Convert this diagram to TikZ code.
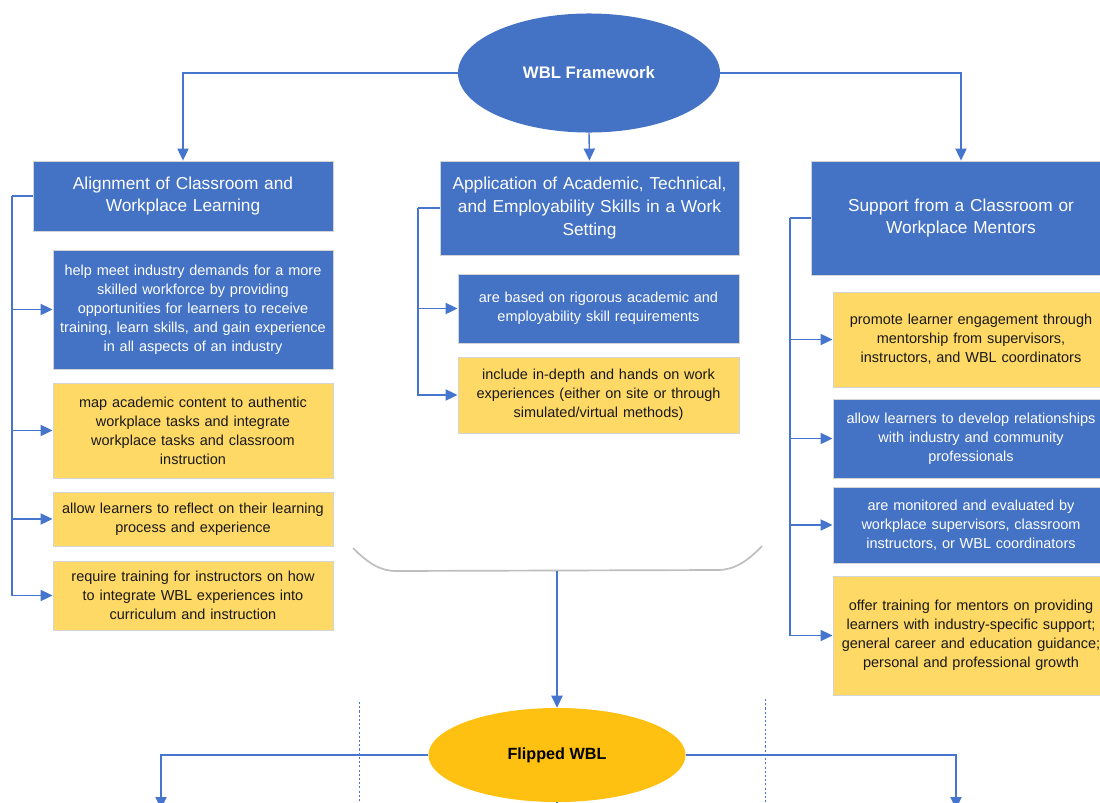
\documentclass[tikz,border=0pt]{standalone}
\usepackage{fontspec}
\setmainfont{Liberation Sans}
\usepackage{tikz}
\usetikzlibrary{shapes.geometric, arrows.meta, positioning, calc}
\definecolor{wblblue}{RGB}{68,114,196}
\definecolor{wblyellow}{RGB}{255,217,102}
\definecolor{wblgold}{RGB}{254,192,17}
\definecolor{linkblue}{RGB}{70,117,205}
\definecolor{edgegray}{RGB}{212,212,212}
\definecolor{curvegray}{RGB}{190,190,190}
\definecolor{txtdark}{RGB}{25,25,25}
\tikzset{
  hdr/.style={rectangle, draw=edgegray, fill=wblblue, text=white,
    minimum width=7.5cm, text width=7.3cm, align=center, inner sep=0pt,
    font=\fontsize{12.3}{16.3}\selectfont, line width=0.6pt},
  bluebox/.style={rectangle, draw=edgegray, fill=wblblue, text=white,
    minimum width=7cm, text width=6.85cm, align=center, inner sep=0pt,
    font=\fontsize{10.3}{13.5}\selectfont, line width=0.6pt},
  yelbox/.style={rectangle, draw=edgegray, fill=wblyellow, text=txtdark,
    minimum width=7cm, text width=6.85cm, align=center, inner sep=0pt,
    font=\fontsize{10.3}{13.5}\selectfont, line width=0.6pt},
  arrow/.style={-{Triangle[length=3mm, width=2.8mm]}, line width=1pt, color=linkblue},
  line/.style={line width=1pt, color=linkblue}
}

\begin{document}
\begin{tikzpicture}[x=0.025cm, y=-0.025cm,
  mainell/.style={ellipse, fill=wblblue, text=white, inner sep=0pt,
    minimum width=6.55cm, minimum height=2.975cm, font=\fontsize{11.9}{14}\selectfont\bfseries},
  flipell/.style={ellipse, fill=wblgold, text=black, inner sep=0pt,
    minimum width=6.425cm, minimum height=2.35cm, font=\fontsize{11.5}{14}\selectfont\bfseries},
  sepline/.style={line width=0.7pt, color=linkblue, dash pattern=on 1.5pt off 1.5pt},
  curve/.style={line width=1.2pt, color=curvegray}]

  \useasboundingbox (0,0) rectangle (1100,803);
  \clip (0,0) rectangle (1100,803);

  \node[mainell] (wbl) at (589,73) {WBL Framework};

  % three headers
  \node[hdr, minimum height=1.75cm] (align) at (183,196) {Alignment of Classroom and\\Workplace Learning};
  \node[hdr, minimum height=2.35cm, minimum width=7.475cm] (apply) at (589.5,208) {Application of Academic, Technical,\\and Employability Skills in a Work\\Setting};
  \node[hdr, minimum height=2.85cm] (support) at (961,218) {Support from a Classroom or\\Workplace Mentors};

  % left column
  \node[bluebox, minimum height=2.975cm] (l1) at (193,309.5) {help meet industry demands for a more\\skilled workforce by providing\\opportunities for learners to receive\\training, learn skills, and gain experience\\in all aspects of an industry};
  \node[yelbox, minimum height=2.375cm] (l2) at (193,430.5) {map academic content to authentic\\workplace tasks and integrate\\workplace tasks and classroom\\instruction};
  \node[yelbox, minimum height=1.35cm] (l3) at (193,519) {allow learners to reflect on their learning\\process and experience};
  \node[yelbox, minimum height=1.725cm] (l4) at (193,595.5) {require training for instructors on how\\to integrate WBL experiences into\\curriculum and instruction};

  % middle column
  \node[bluebox, minimum height=1.725cm, minimum width=7.025cm] (m1) at (598.5,308.5) {are based on rigorous academic and\\employability skill requirements};
  \node[yelbox, minimum height=1.9cm, minimum width=7.025cm] (m2) at (598.5,395) {include in-depth and hands on work\\experiences (either on site or through\\simulated/virtual methods)};

  % right column
  \node[yelbox, minimum height=2.375cm, minimum width=6.9cm] (r1) at (971,339.5) {promote learner engagement through\\mentorship from supervisors,\\instructors, and WBL coordinators};
  \node[bluebox, minimum height=1.975cm, minimum width=6.9cm] (r2) at (971,438.5) {allow learners to develop relationships\\with industry and community\\professionals};
  \node[bluebox, minimum height=1.9cm, minimum width=6.9cm] (r3) at (971,525) {are monitored and evaluated by\\workplace supervisors, classroom\\instructors, or WBL coordinators};
  \node[yelbox, minimum height=2.975cm, minimum width=6.9cm] (r4) at (971,635.5) {offer training for mentors on providing\\learners with industry-specific support;\\general career and education guidance;\\personal and professional growth};

  \node[flipell] (flip) at (557,755) {Flipped WBL};

  \draw[arrow] (wbl.west) -| (align.north);
  \draw[arrow] (wbl.south) -- (apply.north);
  \draw[arrow] (wbl.east) -| (support.north);

  \coordinate (ta) at (12,196);
  \coordinate (tb) at (418,208);
  \coordinate (tc) at (790,218);
  \draw[line] (align.west) -- (ta);
  \draw[line] (apply.west) -- (tb);
  \draw[line] (support.west) -- (tc);
  \foreach \n in {l1,l2,l3,l4} \draw[arrow] (ta) |- (\n.west);
  \foreach \n in {m1,m2} \draw[arrow] (tb) |- (\n.west);
  \foreach \n in {r1,r2,r3,r4} \draw[arrow] (tc) |- (\n.west);

  % gray bracket under the columns
  \coordinate (bmid) at (557,570.5);
  \draw[curve] (353,548) .. controls (368,563) and (380,571) .. (396,571) -- (718,570)
    .. controls (734,570) and (748,561) .. (762,546);
  \draw[arrow] (bmid) -- (flip.north);

  \draw[sepline] (359,702) -- (359,810);
  \draw[sepline] (765,699) -- (765,810);

  \coordinate (fl) at (161,809);
  \coordinate (fr) at (956,809);
  \coordinate (fb) at (557,815);
  \draw[arrow] (flip.west) -| (fl);
  \draw[arrow] (flip.east) -| (fr);
  \draw[line] (flip.south) -- (fb);

\end{tikzpicture}
\end{document}
